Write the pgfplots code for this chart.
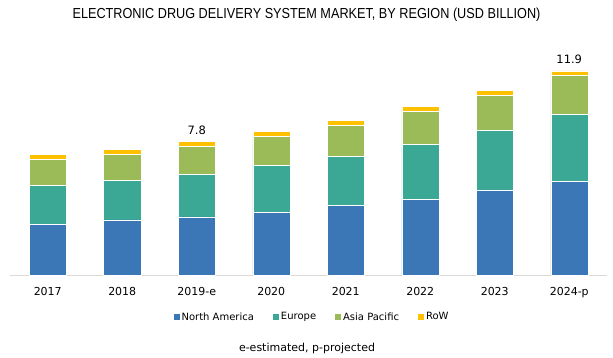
\documentclass[border=0pt]{standalone}
\usepackage{pgfplots}
\pgfplotsset{compat=1.18}
\usepackage{fontspec}
\setmainfont{DejaVu Sans}
\newfontfamily\titlefont[FakeStretch=0.875]{Liberation Sans}
\definecolor{cNA}{RGB}{59,118,183}
\definecolor{cEU}{RGB}{58,168,148}
\definecolor{cAP}{RGB}{155,187,89}
\definecolor{cRW}{RGB}{255,192,0}
\begin{document}
\begin{tikzpicture}[x=1pt,y=1pt]
\useasboundingbox (0,0) rectangle (613,358);
\node[font=\titlefont\fontsize{14.5}{16}\selectfont] at (306.5,343.3) {ELECTRONIC DRUG DELIVERY SYSTEM MARKET, BY REGION (USD BILLION)};
\begin{axis}[
  at={(10.5pt,82.5pt)}, anchor=south west,
  scale only axis, width=596pt, height=223.4pt,
  xmin=-0.5, xmax=7.5, ymin=0, ymax=13,
  ybar stacked, bar width=37pt,
  axis x line=bottom, hide y axis,
  axis line style={-, draw=black!15, line width=0.8pt},
  xtick={0,...,7},
  xticklabels={2017,2018,2019-e,2020,2021,2022,2023,2024-p},
  major tick length=0pt,
  xticklabel style={font=\fontsize{11}{13}\selectfont, yshift=-8pt},
  every axis plot/.append style={draw=white, line width=0.5pt},
  legend columns=-1,
  legend style={draw=none, fill=none, at={(0.506,-0.186)}, anchor=center,
    font=\fontsize{10}{12}\selectfont,
    /tikz/every odd column/.append style={column sep=0pt},
    /tikz/every even column/.append style={column sep=17pt}},
  legend image code/.code={\path[#1,draw=none] (0pt,-3pt) rectangle (6pt,3pt);},
  clip=false,
]
\addplot[fill=cNA] coordinates {(0,2.98) (1,3.23) (2,3.41) (3,3.68) (4,4.09) (5,4.44) (6,4.96) (7,5.48)};
\addplot[fill=cEU] coordinates {(0,2.25) (1,2.31) (2,2.49) (3,2.74) (4,2.83) (5,3.18) (6,3.47) (7,3.88)};
\addplot[fill=cAP] coordinates {(0,1.51) (1,1.51) (2,1.63) (3,1.66) (4,1.80) (5,1.92) (6,2.06) (7,2.27)};
\addplot[fill=cRW, point meta=explicit symbolic, nodes near coords,
  every node near coord/.style={anchor=south, yshift=8pt, inner sep=1pt, font=\fontsize{11.5}{13}\selectfont, text=black}]
  coordinates {(0,0.29) [{}] (1,0.27) [{}] (2,0.27) [7.8] (3,0.29) [{}] (4,0.29) [{}] (5,0.31) [{}] (6,0.29) [{}] (7,0.27) [11.9]};
\legend{North America, Europe, Asia Pacific, RoW}
\end{axis}
\node[font=\fontsize{11}{13}\selectfont] at (307,10) {e-estimated, p-projected};
\end{tikzpicture}
\end{document}
